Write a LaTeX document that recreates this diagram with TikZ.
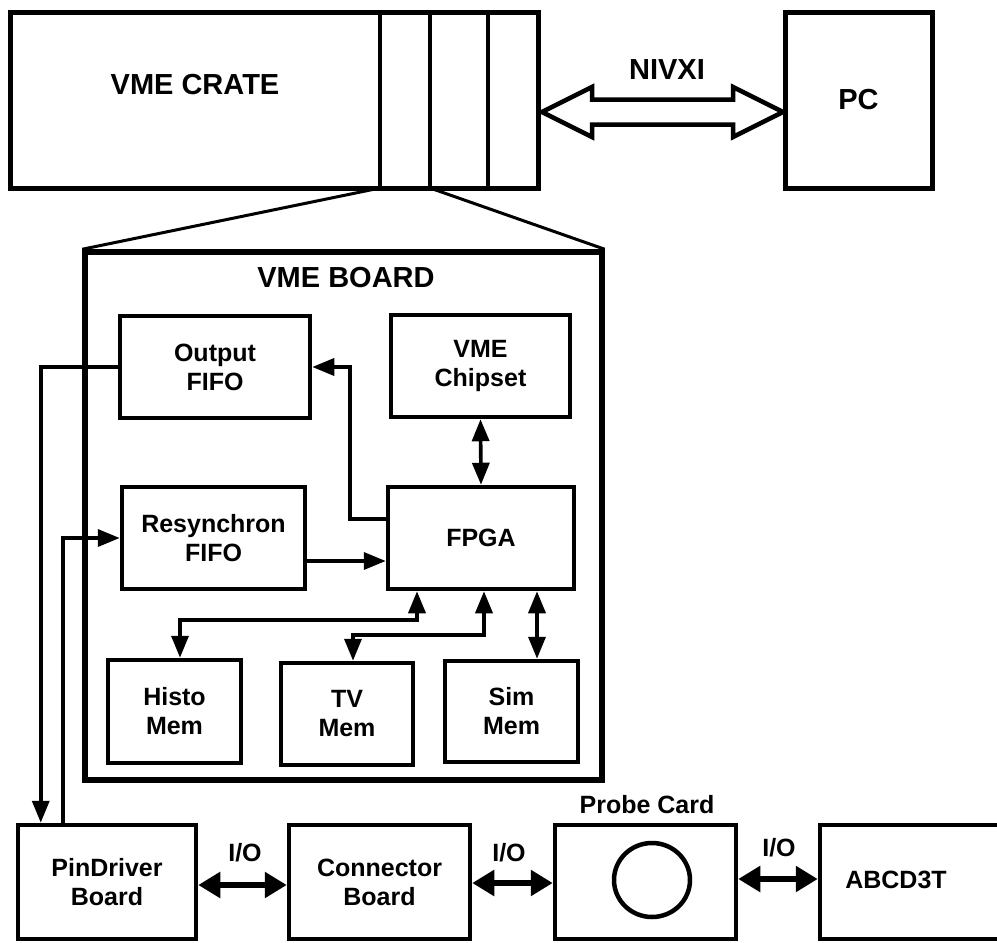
\documentclass[tikz,border=0pt]{standalone}
\usepackage{fontspec}
\setmainfont{Liberation Sans}
\usetikzlibrary{arrows.meta,shapes.geometric,calc}
\begin{document}
\begin{tikzpicture}[x=1pt,y=-1pt,
  blk/.style={draw, line width=4.5pt, inner sep=0pt, align=center,
    font=\bfseries\fontsize{25}{29}\selectfont},
  big/.style={inner sep=0pt, font=\bfseries\fontsize{29}{33}\selectfont},
  lbl/.style={inner sep=0pt, font=\bfseries\fontsize{25}{29}\selectfont},
  wire/.style={line width=3.6pt},
  tipE/.style={-{Triangle[length=22pt,width=17pt]}},
  tipB/.style={{Triangle[length=22pt,width=17pt]}-{Triangle[length=22pt,width=17pt]}},
  iowire/.style={line width=5.5pt, {Triangle[length=22pt,width=25pt]}-{Triangle[length=22pt,width=25pt]}}
]
\useasboundingbox (0,0) rectangle (997,943);
\clip (0,0) rectangle (997,943);

% VME crate with slots
\node[blk, line width=5pt, minimum width=528pt, minimum height=176pt] (crate) at (274,100) {};
\node[big] (cratetxt) at (195,85) {VME CRATE};
\coordinate (s1t) at (380,12); \coordinate (s1b) at (380,188);
\coordinate (s2t) at (430,12); \coordinate (s2b) at (430,188);
\coordinate (s3t) at (488,12); \coordinate (s3b) at (488,188);
\draw[line width=3.6pt] (s1t) -- (s1b) (s2t) -- (s2b) (s3t) -- (s3b);

% PC
\node[blk, line width=5pt, minimum width=147pt, minimum height=176pt,
  font=\bfseries\fontsize{29}{33}\selectfont] (pc) at (858.5,100) {PC};

% NIVXI double arrow
\node[big] (nivxi) at (667,70) {NIVXI};
\draw[line width=4.5pt, line join=miter]
  (542,112) -- (592,87) -- (592,99.5) -- (733,99.5) -- (733,87) -- (783,112)
  -- (733,137) -- (733,124.5) -- (592,124.5) -- (592,137) -- cycle;

% VME board
\node[blk, line width=5.5pt, minimum width=517pt, minimum height=528pt] (board) at (343.5,516) {};
\node[big] (boardtxt) at (346,278) {VME BOARD};
\draw[line width=3pt] (s1b) -- (board.north west);
\draw[line width=3pt] (s2b) -- (board.north east);

% Board components
\node[blk, minimum width=190pt, minimum height=102pt] (out) at (215,367) {Output\\FIFO};
\node[blk, minimum width=179pt, minimum height=102pt] (chip) at (480.5,366) {VME\\Chipset};
\node[blk, minimum width=183pt, minimum height=102pt] (resync) at (213.5,538) {Resynchron\\FIFO};
\node[blk, minimum width=186pt, minimum height=102pt] (fpga) at (481,538) {FPGA};
\node[blk, minimum width=133pt, minimum height=103pt] (histo) at (174.5,711.5) {Histo\\Mem};
\node[blk, minimum width=132pt, minimum height=102pt] (tv) at (347,714) {TV\\Mem};
\node[blk, minimum width=133pt, minimum height=101pt] (sim) at (511.5,711.5) {Sim\\Mem};

% Bottom row
\node[blk, minimum width=178pt, minimum height=114pt] (pin) at (107,882) {PinDriver\\Board};
\node[blk, minimum width=181pt, minimum height=114pt] (cboard) at (379.5,882) {Connector\\Board};
\node[blk, minimum width=181pt, minimum height=114pt] (probe) at (645.5,882) {};
\node[draw, ellipse, line width=4.5pt, minimum width=76pt, minimum height=74pt, inner sep=0pt] (lens) at (652,880) {};
\node[lbl] (probetxt) at (647,805) {Probe Card};
\node[blk, minimum width=190pt, minimum height=114pt] (abcd) at (915,882) {};
\node[lbl] (abcdtxt) at (896,880) {ABCD3T};

% Connectors inside board
\draw[wire, tipE] (out.west) -| ([xshift=25pt]pin.north west);
\draw[wire, tipE] ([xshift=47pt]pin.north west) |- (resync.west);
\draw[wire, tipE] ([yshift=19pt]fpga.west) -- ++(-36,0) |- (out.east);
\draw[wire, tipE] ([yshift=-23pt]resync.east) -- ([yshift=-23pt]fpga.west);
\draw[wire, tipB] (chip.south) -- (fpga.north);
\draw[wire, tipB] ([xshift=-64pt]fpga.south) -- ++(0,29) -| ([xshift=5.5pt]histo.north);
\draw[wire, tipB] ([xshift=3pt]fpga.south) -- ++(0,44) -| ([xshift=6pt]tv.north);
\draw[wire, tipB] ([xshift=56pt]fpga.south) -- ([xshift=25.5pt]sim.north);

% I/O connectors
\draw[iowire] ([yshift=-3pt]pin.east) -- ([yshift=-3pt]cboard.west);
\draw[iowire] ([yshift=-1pt]cboard.east) -- ([yshift=-1pt]probe.west);
\draw[iowire] ([yshift=3pt]probe.east) -- ([yshift=3pt]abcd.west);
\node[lbl] (io1) at (245,853) {I/O};
\node[lbl] (io2) at (509,853) {I/O};
\node[lbl] (io3) at (779,848) {I/O};
\end{tikzpicture}
\end{document}
